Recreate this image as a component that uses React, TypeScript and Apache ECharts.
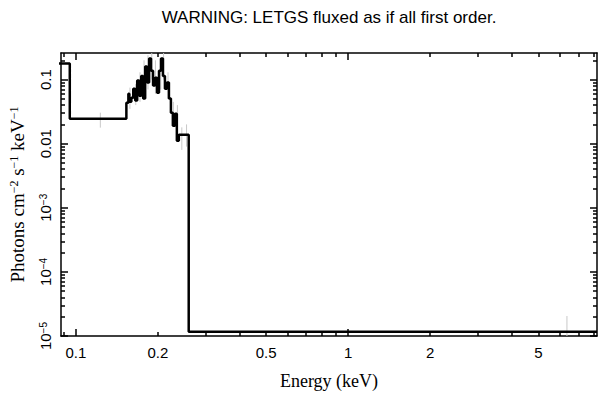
import React, { useEffect, useRef } from 'react';
import * as echarts from 'echarts';

const TITLE = 'WARNING: LETGS fluxed as if all first order.';
const X_NAME = 'Energy (keV)';
const X_MIN = 0.0882;
const X_MAX = 8.2;
const Y_MIN = 1e-5;
const Y_MAX = 0.26;

// histogram bin edges (keV) and flux per bin (photons cm^-2 s^-1 keV^-1)
const binEdges = [
  0.08, 0.095, 0.1533, 0.1559, 0.1572, 0.1599, 0.1625, 0.1652, 0.168, 0.1709,
  0.1738, 0.1767, 0.1797, 0.1827, 0.1858, 0.1889, 0.1921, 0.1954, 0.1987, 0.202,
  0.2054, 0.2089, 0.2124, 0.216, 0.2197, 0.2234, 0.2271, 0.231, 0.2349, 0.2389,
  0.2512, 0.2597, 8.2,
];
const binFlux = [
  0.178, 0.0246, 0.0437, 0.0604, 0.0453, 0.0523, 0.0723, 0.047, 0.0965, 0.0562,
  0.114, 0.0505, 0.16, 0.0898, 0.213, 0.138, 0.0806, 0.107, 0.0626, 0.138,
  0.213, 0.114, 0.0723, 0.0898, 0.0505, 0.0305, 0.0191, 0.0294, 0.0111, 0.0138,
  0.0138, 1.17e-5,
];

// error bars: energy, low, high
const errEnergy = [0.123, 0.158, 0.166, 0.172, 0.178, 0.184, 0.19, 0.196, 0.205, 0.21, 0.218, 0.228, 0.236, 0.245, 0.255, 6.36];
const errLow = [0.0178, 0.035, 0.04, 0.045, 0.06, 0.07, 0.1, 0.06, 0.07, 0.1, 0.05, 0.02, 0.014, 0.008, 0.009, 1e-5];
const errHigh = [0.0305, 0.075, 0.085, 0.13, 0.2, 0.24, 0.26, 0.2, 0.2, 0.26, 0.13, 0.045, 0.04, 0.018, 0.02, 2.05e-5];

const xLabelValues = [0.1, 0.2, 0.5, 1, 2, 5];
const xLabelTexts = ['0.1', '0.2', '0.5', '1', '2', '5'];
const xMajorTicks = [0.1, 1];
const xMinorTicks = [0.09, 0.2, 0.3, 0.4, 0.5, 0.6, 0.7, 0.8, 0.9, 2, 3, 4, 5, 6, 7, 8];
const yDecades = [-5, -4, -3, -2, -1];
const yLabelTexts = ['{b|10}{s|−5}', '{b|10}{s|−4}', '{b|10}{s|−3}', '0.01', '0.1'];

const lg = (v: number) => Math.log10(v);

export default function App() {
  const ref = useRef<HTMLDivElement>(null);
  useEffect(() => {
    document.body.style.margin = '0';
    if (!ref.current) return;
    const chart = echarts.init(ref.current, undefined, { renderer: 'svg' });

    const stepData: number[][] = [];
    for (let i = 0; i < binFlux.length; i++) stepData.push([lg(binEdges[i]), lg(binFlux[i])]);
    stepData.push([lg(binEdges[binEdges.length - 1]), lg(binFlux[binFlux.length - 1])]);

    const errData = errEnergy.map((e, i) => [lg(e), lg(errLow[i]), lg(errHigh[i])]);

    const yMinor: number[] = [];
    for (const d of yDecades) for (let m = 2; m <= 9; m++) {
      const v = lg(m) + d;
      if (v < lg(Y_MAX)) yMinor.push(v);
    }

    const sans = 'Liberation Sans';
    const serif = 'Liberation Serif';
    const lineStyle = { color: '#000', width: 1.5 };
    const rich = {
      b: { fontSize: 15, fontFamily: sans, color: '#000' },
      s: { fontSize: 10, fontFamily: sans, color: '#000', verticalAlign: 'top' as const, lineHeight: 10 },
    };

    const xBase = (pos: 'top' | 'bottom', showLine: boolean) => ({
      type: 'value' as const,
      position: pos,
      min: lg(X_MIN),
      max: lg(X_MAX),
      splitLine: { show: false },
      axisLine: { show: showLine, onZero: false, lineStyle },
    });
    const yBase = (pos: 'left' | 'right', showLine: boolean) => ({
      type: 'value' as const,
      position: pos,
      min: lg(Y_MIN),
      max: lg(Y_MAX),
      splitLine: { show: false },
      axisLine: { show: showLine, onZero: false, lineStyle },
    });

    chart.setOption({
      animation: false,
      grid: { left: 55, right: 12, top: 53, bottom: 63 },
      xAxis: [
        {
          ...xBase('bottom', true),
          name: X_NAME,
          nameLocation: 'middle',
          nameGap: 36,
          nameTextStyle: { fontFamily: serif, fontSize: 18, color: '#000' },
          axisTick: { inside: true, length: 7, lineStyle, customValues: xMajorTicks.map(lg) },
          axisLabel: {
            margin: 9,
            fontFamily: sans,
            fontSize: 15,
            color: '#000',
            customValues: xLabelValues.map(lg),
            formatter: (v: number) => {
              let best = 0;
              xLabelValues.forEach((x, i) => { if (Math.abs(lg(x) - v) < Math.abs(lg(xLabelValues[best]) - v)) best = i; });
              return xLabelTexts[best];
            },
          },
        },
        {
          ...xBase('bottom', false),
          axisTick: { inside: true, length: 4, lineStyle, customValues: xMinorTicks.map(lg) },
          axisLabel: { show: false },
        },
        {
          ...xBase('top', true),
          name: TITLE,
          nameLocation: 'middle',
          nameGap: 27,
          nameTextStyle: { fontFamily: sans, fontSize: 17, color: '#000' },
          axisTick: { inside: true, length: 7, lineStyle, customValues: xMajorTicks.map(lg) },
          axisLabel: { show: false },
        },
        {
          ...xBase('top', false),
          axisTick: { inside: true, length: 4, lineStyle, customValues: xMinorTicks.map(lg) },
          axisLabel: { show: false },
        },
      ],
      yAxis: [
        {
          ...yBase('left', true),
          name: 'Photons cm{s|−2} s{s|−1} keV{s|−1}',
          nameLocation: 'middle',
          nameGap: 34,
          nameTextStyle: {
            fontFamily: serif,
            fontSize: 19,
            color: '#000',
            rich: {
              s: { fontFamily: serif, fontSize: 12, color: '#000', verticalAlign: 'top', lineHeight: 12 },
            },
          },
          axisTick: { inside: true, length: 7, lineStyle, customValues: yDecades },
          axisLabel: {
            rotate: 90,
            margin: 8,
            fontFamily: sans,
            fontSize: 15,
            color: '#000',
            customValues: yDecades,
            formatter: (v: number) => yLabelTexts[yDecades.indexOf(Math.round(v))] ?? '',
            rich,
          },
        },
        {
          ...yBase('left', false),
          axisTick: { inside: true, length: 4, lineStyle, customValues: yMinor },
          axisLabel: { show: false },
        },
        {
          ...yBase('right', true),
          axisTick: { inside: true, length: 7, lineStyle, customValues: yDecades },
          axisLabel: { show: false },
        },
        {
          ...yBase('right', false),
          axisTick: { inside: true, length: 4, lineStyle, customValues: yMinor },
          axisLabel: { show: false },
        },
      ],
      series: [
        {
          type: 'custom',
          xAxisIndex: 0,
          yAxisIndex: 0,
          data: errData,
          encode: { x: 0, y: [1, 2] },
          clip: true,
          z: 1,
          renderItem: (params: any, api: any) => {
            const p1 = api.coord([api.value(0), api.value(1)]);
            const p2 = api.coord([api.value(0), api.value(2)]);
            return {
              type: 'line',
              shape: { x1: p1[0], y1: p1[1], x2: p2[0], y2: p2[1] },
              style: { stroke: '#c8c8c8', lineWidth: 1 },
            };
          },
        },
        {
          type: 'line',
          xAxisIndex: 0,
          yAxisIndex: 0,
          data: stepData,
          step: 'end',
          showSymbol: false,
          symbol: 'none',
          clip: true,
          z: 2,
          lineStyle: { color: '#000', width: 2.5 },
        },
      ],
    });
    return () => chart.dispose();
  }, []);
  return <div ref={ref} style={{ width: 609, height: 399 }} />;
}
